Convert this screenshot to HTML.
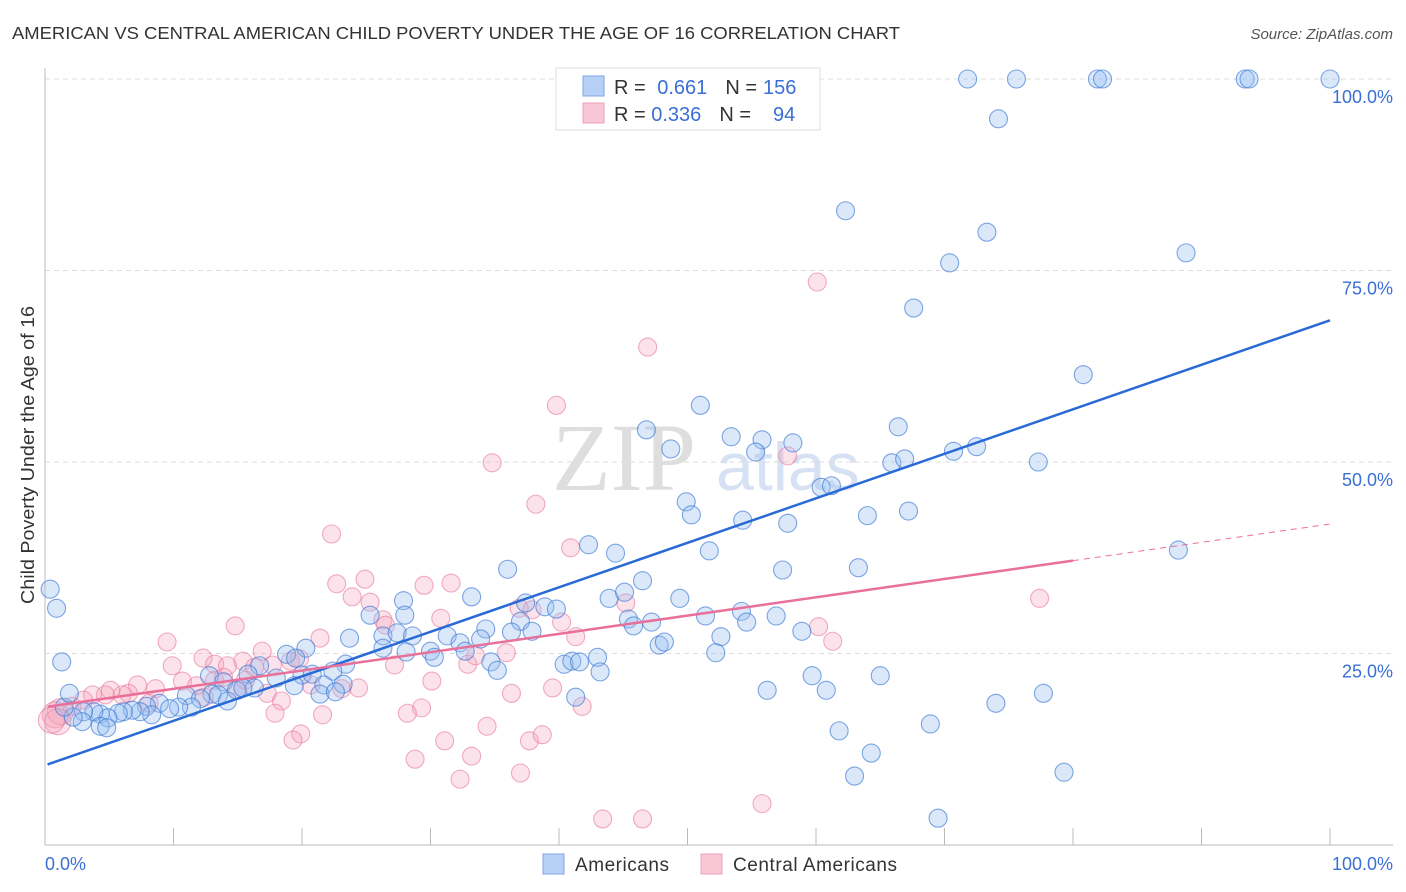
<!DOCTYPE html>
<html><head><meta charset="utf-8"><style>
body{margin:0;background:#fff;font-family:"Liberation Sans",sans-serif;}
#wrap{position:relative;width:1406px;height:892px;overflow:hidden;}
</style></head><body>
<div id="wrap">
<svg id="svg" width="1406" height="892" xmlns="http://www.w3.org/2000/svg">
<text x="12" y="39" font-size="17.5" fill="#333" textLength="888" lengthAdjust="spacingAndGlyphs">AMERICAN VS CENTRAL AMERICAN CHILD POVERTY UNDER THE AGE OF 16 CORRELATION CHART</text>
<text x="1393" y="39" font-size="15" fill="#555" font-style="italic" text-anchor="end">Source: ZipAtlas.com</text>
<g>
<text x="552" y="490" font-size="96" font-family="Liberation Serif,serif" fill="#dedede">ZIP</text>
<text x="716" y="490" font-size="68" fill="#d6e2f3">atlas</text>
</g>
<g id="grid"></g>
<line x1="45" y1="68" x2="45" y2="845" stroke="#bbb"/>
<line x1="45" y1="845" x2="1393" y2="845" stroke="#bbb"/>
<g id="xticks"></g>
<text transform="translate(34,455) rotate(-90)" font-size="18" fill="#333" text-anchor="middle" textLength="298" lengthAdjust="spacingAndGlyphs">Child Poverty Under the Age of 16</text>
<text x="45" y="870" font-size="18" fill="#3a6fd6">0.0%</text>
<text x="1393" y="870" font-size="18" fill="#3a6fd6" text-anchor="end">100.0%</text>
<g id="pts"></g>
<g id="lines"></g>
<g>
<rect x="556" y="68" width="264" height="62" fill="#fff" stroke="#ddd"/>
<rect x="583" y="76" width="21" height="20" fill="#b7d0f5" stroke="#7fa6e8"/>
<rect x="583" y="103" width="21" height="20" fill="#f9c6d5" stroke="#eea0b8"/>
<text x="614" y="94" font-size="20" fill="#333">R = <tspan fill="#3a6fd6" dx="6">0.661</tspan><tspan dx="18">N =</tspan><tspan fill="#3a6fd6" dx="6">156</tspan></text>
<text x="614" y="121" font-size="20" fill="#333">R = <tspan fill="#3a6fd6">0.336</tspan><tspan dx="18">N =</tspan><tspan fill="#3a6fd6" dx="22">94</tspan></text>
</g>
<g>
<rect x="543" y="854" width="21" height="20" fill="#b7d0f5" stroke="#7fa6e8"/>
<text x="575" y="871" font-size="19" fill="#333" textLength="94">Americans</text>
<rect x="701" y="854" width="21" height="20" fill="#f9c6d5" stroke="#eea0b8"/>
<text x="733" y="871" font-size="19" fill="#333" textLength="164">Central Americans</text>
</g>
</svg>
</div>
<script>
const yTicks=[25,50,75,100];
const yTickLabels=["25.0%","50.0%","75.0%","100.0%"];
const xTicks=[10,20,30,40,50,60,70,80,90,100];
const blueX=[71.8,75.6,81.9,82.3,93.4,93.7,100,74.2,59.2,62.3,73.3,70.4,88.8,67.6,80.8,51.0,46.8,66.4,53.4,55.8,58.2,48.7,55.3,70.7,72.5,65.9,66.9,77.3,60.4,61.2,49.9,50.3,54.3,57.8,64.0,67.2,42.3,44.4,51.7,88.2,36.0,57.4,63.3,46.5,33.2,43.9,45.1,49.4,27.9,37.4,38.9,39.8,25.3,51.4,54.2,54.6,56.9,45.4,47.2,45.8,37.0,34.3,58.9,36.3,37.9,23.7,26.3,27.4,28.6,31.3,32.3,33.9,52.6,47.8,48.2,26.3,28.1,30.0,30.3,32.7,20.3,43.0,34.7,35.2,40.4,41.0,41.6,43.2,52.2,18.8,19.5,23.4,16.7,22.4,15.8,20.0,20.8,18.0,21.7,23.2,19.4,21.4,22.6,12.8,13.9,16.3,14.9,15.4,13.0,13.5,14.2,11.0,12.1,11.4,10.4,8.9,9.7,7.9,8.3,7.4,6.8,6.1,5.7,4.3,4.9,3.8,3.0,2.9,2.2,1.5,1.9,1.3,0.9,0.4,4.3,4.8,41.3,56.2,59.7,60.8,65.0,61.8,64.3,63.0,68.9,74.0,77.7,79.3,69.5,28.0];
const blueY=[100,100,100,100,100,100,100,94.8,95.0,82.8,80.0,76.0,77.3,70.1,61.4,57.4,54.2,54.6,53.3,52.9,52.5,51.7,51.3,51.4,52.0,49.9,50.4,50.0,46.7,46.9,44.8,43.1,42.4,42.0,43.0,43.6,39.2,38.1,38.4,38.5,36.0,35.9,36.2,34.5,32.4,32.2,33.0,32.2,31.9,31.6,31.1,30.8,30.0,29.9,30.5,29.1,29.9,29.5,29.1,28.6,29.2,28.2,27.9,27.8,27.9,27.0,27.3,27.7,27.3,27.3,26.4,26.9,27.2,26.1,26.5,25.7,25.2,25.3,24.5,25.3,25.7,24.5,23.9,22.8,23.6,24.0,23.9,22.6,25.1,24.9,24.4,23.6,23.4,22.7,22.3,22.2,22.3,21.8,20.9,21.0,20.8,19.7,20.0,22.1,21.3,20.5,20.2,20.5,19.7,19.6,18.8,19.5,19.1,18.0,18.0,18.5,17.8,18.1,17.0,17.4,17.6,17.4,17.2,17.1,16.6,17.4,17.4,16.1,16.7,18.0,19.8,23.9,30.9,33.4,15.5,15.3,19.3,20.2,22.1,20.2,22.1,14.9,12.0,9.0,15.8,18.5,19.8,9.5,3.5,30.0];
const pinkX=[60.1,46.9,39.8,34.8,38.2,22.3,40.9,22.7,24.9,29.5,31.6,23.9,25.3,26.3,30.8,26.5,36.9,37.9,40.2,45.2,41.3,77.4,57.8,60.2,61.3,9.5,14.8,16.9,21.4,19.1,17.7,19.8,12.3,13.2,14.2,15.4,16.3,9.9,10.7,8.6,7.2,6.5,6.0,5.1,4.7,3.7,3.0,2.1,1.2,0.8,1.0,0.5,8.1,11.8,12.4,13.2,13.9,15.0,15.6,17.3,18.4,20.7,23.1,24.4,27.2,30.1,32.9,35.9,33.5,36.3,39.5,41.8,29.3,28.2,17.9,21.6,19.9,19.3,28.8,31.1,33.2,32.3,34.4,37.7,38.7,37.0,43.4,46.5,55.8];
const pinkY=[73.5,65.0,57.4,49.9,44.5,40.6,38.8,34.1,34.7,33.9,34.2,32.4,31.7,29.4,29.6,28.7,30.9,30.7,29.1,31.6,27.2,32.2,50.8,28.5,26.6,26.5,28.6,25.3,27.0,24.0,23.5,24.3,24.4,23.6,23.4,24.0,23.2,23.4,21.4,20.4,20.9,19.8,19.6,20.2,19.6,19.6,18.9,18.1,17.4,17.0,16.1,16.3,18.5,20.8,19.3,21.5,21.9,20.2,21.5,19.8,18.8,20.9,20.4,20.5,23.5,21.4,23.6,25.1,24.7,19.8,20.5,18.1,17.9,17.2,17.2,17.0,14.5,13.7,11.2,13.6,11.6,8.6,15.5,13.6,14.4,9.4,3.4,3.4,5.4];
const blueTrend=[10.4,68.5];
const pinkTrend=[18.0,41.9];
const pinkSolidEnd=80;

const NS="http://www.w3.org/2000/svg";
const X0=45,X1=1330,Y0=845,Y100=79;
function sx(v){return X0+(X1-X0)*v/100;}
function sy(v){return Y0-(Y0-Y100)*v/100;}
function mk(tag,attrs,parent){const e=document.createElementNS(NS,tag);for(const k in attrs)e.setAttribute(k,attrs[k]);parent.appendChild(e);return e;}
const grid=document.getElementById('grid');
yTicks.forEach((t,i)=>{
  const l=mk('line',{x1:45,x2:1393,y1:sy(t),y2:sy(t),stroke:'#ddd','stroke-dasharray':'5,4'},grid);
  
  
  const tx=mk('text',{x:1393,y:sy(t)+24,'font-size':18,fill:'#3a6fd6','text-anchor':'end'},grid);
  tx.textContent=yTickLabels[i];
  
  
});
const xt=document.getElementById('xticks');
xTicks.forEach(t=>{
  const l=mk('line',{x1:sx(t),x2:sx(t),y1:828,y2:845,stroke:'#bbb'},xt);
  
  
});
const pts=document.getElementById('pts');
pinkX.forEach((v,i)=>{
  const c=mk('circle',{cx:sx(v),cy:sy(pinkY[i]),r:i>=48&&i<=51?13:9,fill:'rgba(245,160,185,0.3)',stroke:'rgba(232,120,155,0.6)','stroke-width':1.1},pts);
  
  
});
blueX.forEach((v,i)=>{
  const c=mk('circle',{cx:sx(v),cy:sy(blueY[i]),r:9,fill:'rgba(150,190,240,0.35)',stroke:'rgba(60,120,210,0.65)','stroke-width':1.1},pts);
  
  
});
const lines=document.getElementById('lines');
function ty(tr,x){return tr[0]+(tr[1]-tr[0])*x/100;}
const bl=mk('line',{x1:sx(0.2),y1:sy(ty(blueTrend,0.2)),x2:sx(100),y2:sy(ty(blueTrend,100)),stroke:'#2a6ad6','stroke-width':2.5},lines);


const pl=mk('line',{x1:sx(0.2),y1:sy(ty(pinkTrend,0.2)),x2:sx(pinkSolidEnd),y2:sy(ty(pinkTrend,pinkSolidEnd)),stroke:'#e8709a','stroke-width':2.5},lines);


const pd=mk('line',{x1:sx(pinkSolidEnd),y1:sy(ty(pinkTrend,pinkSolidEnd)),x2:sx(100),y2:sy(ty(pinkTrend,100)),stroke:'#e8709a','stroke-width':1,'stroke-dasharray':'6,5'},lines);


</script>
</body></html>
